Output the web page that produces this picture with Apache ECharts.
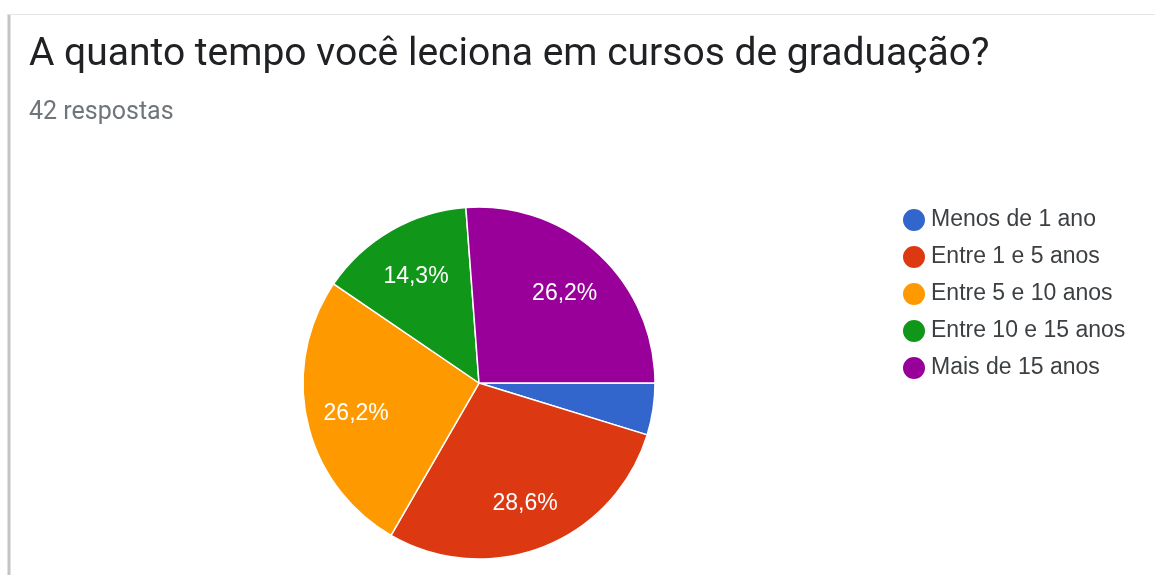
<!DOCTYPE html>
<html>
<head>
<meta charset="utf-8">
<script src="https://cdn.jsdelivr.net/npm/echarts@6/dist/echarts.min.js"></script>
<style>
  html, body { margin: 0; padding: 0; background: #fff; }
  #chart { width: 1155px; height: 575px; }
</style>
</head>
<body>
<div id="chart"></div>
<script>
  // respostas por faixa
  const categories = ['Menos de 1 ano', 'Entre 1 e 5 anos', 'Entre 5 e 10 anos', 'Entre 10 e 15 anos', 'Mais de 15 anos']
  const counts = [2, 12, 11, 6, 11]
  const colors = ['#3366cc', '#dc3912', '#ff9900', '#109618', '#990099']

  const total = counts.reduce((a, b) => a + b, 0)
  const pieData = categories.map((name, i) => ({name: name, value: counts[i]}))

  const chart = echarts.init(document.getElementById('chart'))

  chart.setOption({
    animation: false,
    color: colors,
    title: {
      text: 'A quanto tempo você leciona em cursos de graduação?',
      subtext: total + ' respostas',
      left: 24,
      top: 31,
      itemGap: 25,
      textStyle: {
        fontFamily: 'Roboto',
        fontSize: 39,
        fontWeight: 'normal',
        color: '#202124'
      },
      subtextStyle: {
        fontFamily: 'Roboto',
        fontSize: 25,
        color: '#70757a'
      }
    },
    graphic: [
      {
        type: 'line',
        shape: {x1: 9, y1: 14, x2: 9, y2: 575},
        style: {stroke: '#c4c4c4', lineWidth: 3}
      },
      {
        type: 'line',
        shape: {x1: 8, y1: 14.5, x2: 1155, y2: 14.5},
        style: {stroke: '#e4e4e4', lineWidth: 1}
      }
    ],
    legend: {
      orient: 'vertical',
      left: 896,
      top: 202,
      icon: 'circle',
      itemWidth: 24,
      itemHeight: 24,
      itemGap: 11,
      data: categories,
      textStyle: {
        fontFamily: 'Liberation Sans',
        fontSize: 23,
        lineHeight: 24,
        color: '#3c4043'
      }
    },
    series: [
      {
        type: 'pie',
        center: [479, 383],
        radius: 176,
        startAngle: 0,
        clockwise: true,
        avoidLabelOverlap: false,
        itemStyle: {borderColor: '#fff', borderWidth: 1.5},
        label: {show: false},
        labelLine: {show: false},
        emphasis: {disabled: true},
        data: pieData
      },
      {
        // anel invisível só para posicionar os rótulos a ~70% do raio
        type: 'pie',
        center: [479, 386],
        radius: [70, 176],
        startAngle: 0,
        clockwise: true,
        silent: true,
        avoidLabelOverlap: false,
        itemStyle: {color: 'rgba(0,0,0,0)', borderWidth: 0},
        label: {
          show: true,
          position: 'inside',
          fontFamily: 'Liberation Sans',
          fontSize: 23,
          color: '#fff',
          formatter: function (p) {
            const pct = p.value / total * 100
            if (pct < 5) return ''
            return pct.toFixed(1).replace('.', ',') + '%'
          }
        },
        labelLine: {show: false},
        emphasis: {disabled: true},
        data: pieData
      }
    ]
  })
</script>
</body>
</html>
